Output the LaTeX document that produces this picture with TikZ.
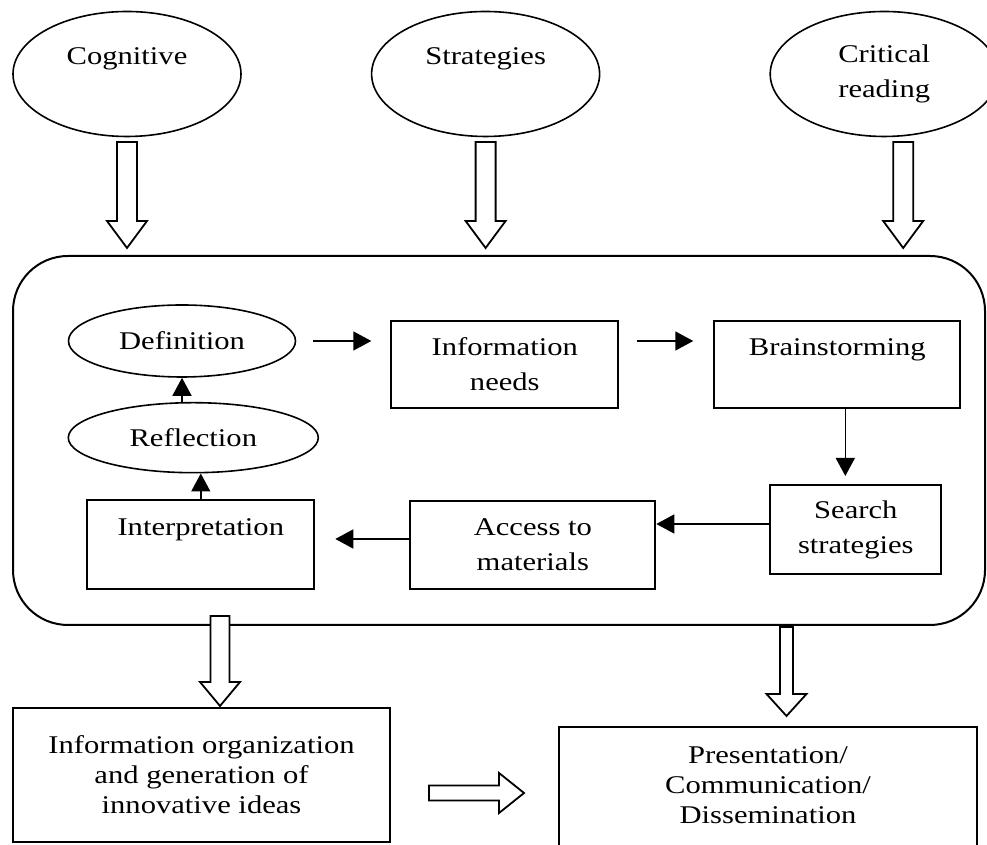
\documentclass[tikz,border=0pt]{standalone}
\usepackage{fontspec}
\setmainfont{Liberation Serif}[FakeStretch=1.2]
\usetikzlibrary{shapes.geometric,arrows.meta,positioning}

\begin{document}
\begin{tikzpicture}[
    x=1pt, y=1pt,
    every node/.style={font=\fontsize{25.5}{35}\selectfont},
    oval/.style={ellipse, draw, line width=1.6pt, inner sep=0pt, align=center},
    box/.style={rectangle, draw, line width=2pt, inner sep=0pt, align=center},
    outbox/.style={box, font=\fontsize{25.5}{30}\selectfont},
    flow/.style={-{Triangle[length=18pt,width=19pt]}, line width=1.5pt},
    hollow/.style={draw, line width=1.8pt, fill=white, line join=miter},
    pics/blockarrow/.style n args={3}{code={
        \draw[hollow] (0,0) -- (-#3,20) -- (-#3,#2/2) -- (-#1,#2/2)
            -- (-#1,-#2/2) -- (-#3,-#2/2) -- (-#3,-20) -- cycle;
    }}
]
\useasboundingbox (0,0) rectangle (987,845);

% top ovals
\node[oval, minimum width=228pt, minimum height=125pt] (cog) at (127,771) {Cognitive\\~};
\node[oval, minimum width=228pt, minimum height=125pt, right=129pt of cog] (strat) {Strategies\\~};
\node[oval, minimum width=228pt, minimum height=125pt, right=169pt of strat] (crit) {Critical\\reading};

% process panel
\node[draw, rounded corners=55pt, line width=2pt, minimum width=972pt, minimum height=369pt] (panel) at (499,404.5) {};

\node[oval, minimum width=227pt, minimum height=72pt] (def) at (182,504) {Definition};
\node[box, minimum width=227pt, minimum height=87pt, right=94pt of def, yshift=-23.5pt] (info) {Information\\needs};
\node[box, minimum width=246pt, minimum height=87pt, right=94pt of info] (brain) {Brainstorming\\~};
\node[box, minimum width=171pt, minimum height=89pt, below=75pt of brain, xshift=18.5pt] (search) {Search\\strategies};
\node[box, minimum width=245pt, minimum height=88pt, left=113pt of search, yshift=-15.5pt] (access) {Access to\\materials};
\node[box, minimum width=227pt, minimum height=89pt, left=94pt of access] (interp) {Interpretation\\~};
\node[oval, minimum width=250pt, minimum height=70pt, above=26pt of interp, xshift=-7.5pt] (refl) {Reflection};

\draw[flow, shorten <=17pt, shorten >=19pt] (def.east) -- (def.east -| info.west);
\draw[flow, shorten <=18pt, shorten >=20pt] (def.east -| info.east) -- (def.east -| brain.west);
\draw[flow, shorten >=8pt] ([xshift=8pt]brain.south) -- ([xshift=8pt]brain.south |- search.north);
\draw[flow] ([yshift=5.5pt]search.west) -- ([yshift=5.5pt]search.west -| access.east);
\draw[flow, shorten >=20pt] ([yshift=6pt]access.west) -- ([yshift=6pt]access.west -| interp.east);
\draw[flow] (interp.north) -- (interp.north |- refl.south);
\draw[flow] (def.south |- refl.north) -- (def.south);

% outcome boxes
\node[outbox, minimum width=377pt, minimum height=134pt] (org) at (201.5,70) {Information organization\\and generation of\\innovative ideas};
\node[outbox, minimum width=418pt, minimum height=146pt] (pres) at (768,45) {Presentation/\\Communication/\\Dissemination\\~};

% block arrows
\path (cog.south |- panel.north) ++(0,7) pic[rotate=-90] {blockarrow={106}{20}{27}};
\path (strat.south |- panel.north) ++(0,7) pic[rotate=-90] {blockarrow={106}{20}{27}};
\path (crit.south |- panel.north) ++(19,7) pic[rotate=-90] {blockarrow={106}{20}{27}};
\path (org.north) ++(18.5,1) pic[rotate=-90] {blockarrow={90}{19}{24}};
\path (pres.north) ++(18.5,10) pic[rotate=-90] {blockarrow={89}{13}{22}};
\path (org.east) ++(133,-18) pic {blockarrow={95}{15}{25}};

\end{tikzpicture}
\end{document}
